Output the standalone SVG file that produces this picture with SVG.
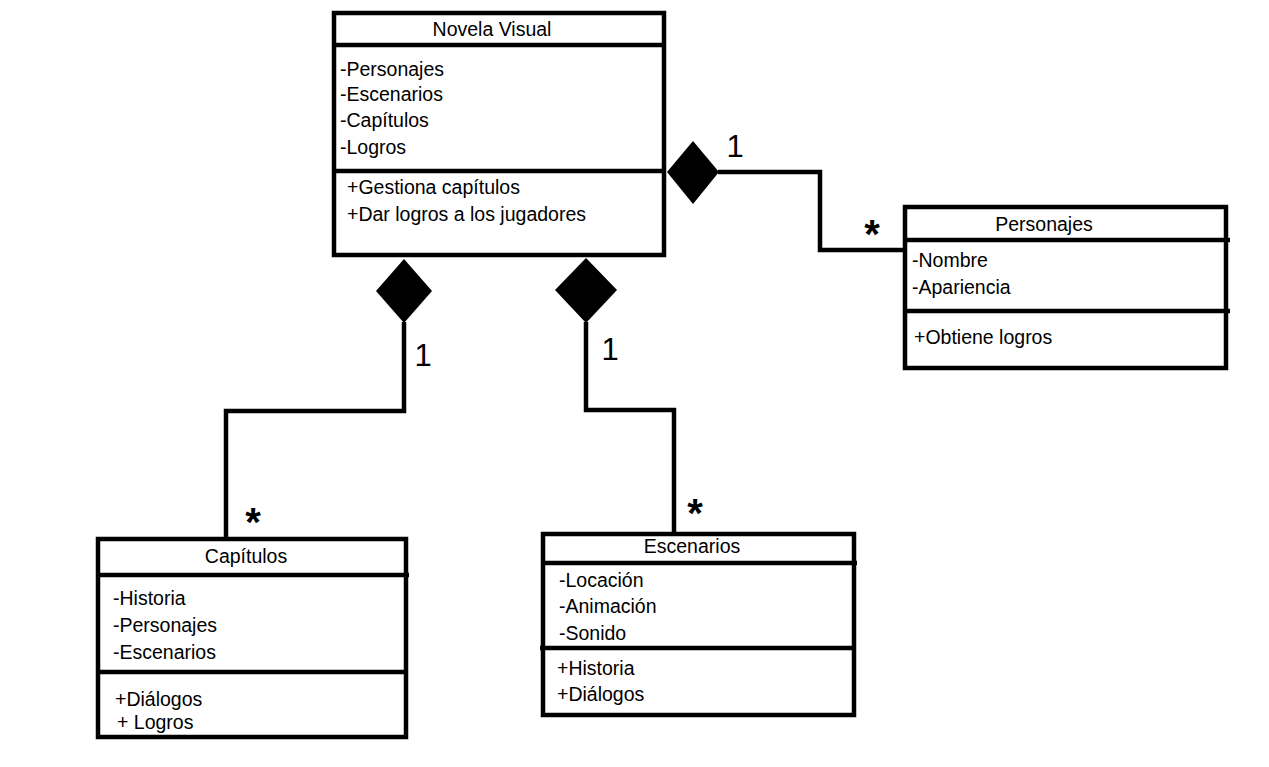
<svg xmlns="http://www.w3.org/2000/svg" width="1269" height="767" viewBox="0 0 1269 767">
<style>
.box{fill:#fff;stroke:#000;stroke-width:4.5}
.div{stroke:#000;stroke-width:4.5}
.t{font-family:"Liberation Sans",Arial,sans-serif;font-size:19.5px;fill:#000}
.c{text-anchor:middle}
.m{font-family:"Liberation Sans",Arial,sans-serif;font-size:31px;fill:#000;text-anchor:middle}
.s{font-family:"Liberation Sans",Arial,sans-serif;font-size:40px;font-weight:bold;fill:#000;text-anchor:middle}
.ln{fill:none;stroke:#000;stroke-width:4.5;stroke-linejoin:miter}
.dia{fill:#000;stroke:none}
</style>
<rect width="1269" height="767" fill="#fff"/>
<g id="connectors">
<polyline class="ln" points="718,172 820,172 820,250 905,250"/>
<polyline class="ln" points="404,322 404,411 226,411 226,538"/>
<polyline class="ln" points="586,322 586,410 674,410 674,533"/>
<polygon class="dia" points="667,172 693,141 719,172 693,204"/>
<polygon class="dia" points="376,291 404,259 432,291 404,323"/>
<polygon class="dia" points="555,290 586,258 617,290 586,323"/>
<text class="m" x="735" y="157">1</text>
<text class="s" x="872" y="248">*</text>
<text class="m" x="423" y="366">1</text>
<text class="m" x="610" y="360">1</text>
<text class="s" x="253" y="536">*</text>
<text class="s" x="695" y="527">*</text>
</g>
<g id="novela-visual">
<rect class="box" x="334" y="13" width="330" height="242"/>
<line class="div" x1="334" y1="45" x2="664" y2="45"/>
<line class="div" x1="334" y1="171" x2="664" y2="171"/>
<text class="t c" x="492" y="36">Novela Visual</text>
<text class="t" x="340" y="76">-Personajes</text>
<text class="t" x="340" y="101">-Escenarios</text>
<text class="t" x="340" y="127">-Capítulos</text>
<text class="t" x="340" y="154">-Logros</text>
<text class="t" x="347" y="194">+Gestiona capítulos</text>
<text class="t" x="347" y="221">+Dar logros a los jugadores</text>
</g>
<g id="personajes">
<rect class="box" x="905" y="207" width="321" height="161"/>
<line class="div" x1="905" y1="240" x2="1230" y2="240"/>
<line class="div" x1="905" y1="311" x2="1230" y2="311"/>
<text class="t c" x="1044" y="231">Personajes</text>
<text class="t" x="912" y="267">-Nombre</text>
<text class="t" x="912" y="294">-Apariencia</text>
<text class="t" x="914" y="344">+Obtiene logros</text>
</g>
<g id="capitulos">
<rect class="box" x="98" y="539" width="308" height="198"/>
<line class="div" x1="98" y1="575" x2="409" y2="575"/>
<line class="div" x1="98" y1="672" x2="406" y2="672"/>
<text class="t c" x="246" y="563">Capítulos</text>
<text class="t" x="113" y="605">-Historia</text>
<text class="t" x="113" y="632">-Personajes</text>
<text class="t" x="113" y="659">-Escenarios</text>
<text class="t" x="115" y="706">+Diálogos</text>
<text class="t" x="117" y="729">+ Logros</text>
</g>
<g id="escenarios">
<rect class="box" x="543" y="534" width="311" height="181"/>
<line class="div" x1="543" y1="563" x2="857" y2="563"/>
<line class="div" x1="540" y1="648" x2="854" y2="648"/>
<text class="t c" x="692" y="553">Escenarios</text>
<text class="t" x="559" y="587">-Locación</text>
<text class="t" x="559" y="613">-Animación</text>
<text class="t" x="559" y="640">-Sonido</text>
<text class="t" x="557" y="675">+Historia</text>
<text class="t" x="557" y="701">+Diálogos</text>
</g>
</svg>
